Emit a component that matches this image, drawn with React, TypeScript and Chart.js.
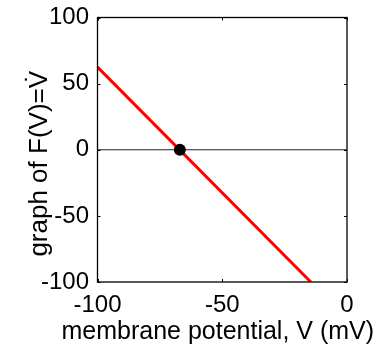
import React, { useEffect, useRef } from "react";
import { Chart, registerables } from "chart.js";

Chart.register(...registerables);

// Membrane potential (mV) and the corresponding rate F(V)
const lineV = [-100, -14.5];
const lineF = [62.5, -100];

// Fixed point where F(V) crosses zero
const restV = [-67];
const restF = [0];

// Horizontal reference at F = 0
const zeroV = [-100, 0];
const zeroF = [0, 0];

const xTicks = [-100, -50, 0];
const yTicks = [-100, -50, 0, 50, 100];

const xTitle = "membrane potential, V (mV)";
const yTitle = "graph of F(V)=V\u0307";

const FONT = "'Liberation Sans', Arial, Helvetica, sans-serif";

// Draws the closed axes box with short inward tick marks on all four sides
const boxPlugin = {
  id: "axesBox",
  afterDatasetsDraw(chart: any) {
    const { ctx, chartArea: a, scales } = chart;
    const tl = 3;
    ctx.save();
    ctx.strokeStyle = "#000";
    ctx.lineWidth = 1;
    ctx.beginPath();
    for (const v of xTicks) {
      const x = Math.round(scales.x.getPixelForValue(v)) + 0.5;
      ctx.moveTo(x, a.bottom);
      ctx.lineTo(x, a.bottom - tl);
      ctx.moveTo(x, a.top);
      ctx.lineTo(x, a.top + tl);
    }
    for (const v of yTicks) {
      const y = Math.round(scales.y.getPixelForValue(v)) + 0.5;
      ctx.moveTo(a.left, y);
      ctx.lineTo(a.left + tl, y);
      ctx.moveTo(a.right, y);
      ctx.lineTo(a.right - tl, y);
    }
    ctx.stroke();
    ctx.lineWidth = 1.3;
    ctx.strokeRect(a.left, a.top, a.right - a.left, a.bottom - a.top);
    ctx.restore();
  },
};

// Axis titles drawn at their natural width (no squeezing to the axis length)
const titlePlugin = {
  id: "axisTitles",
  afterDraw(chart: any) {
    const { ctx, chartArea: a } = chart;
    ctx.save();
    ctx.fillStyle = "#000";
    ctx.textAlign = "center";
    ctx.textBaseline = "alphabetic";
    ctx.font = `25px ${FONT}`;
    ctx.fillText(xTitle, (a.left + a.right) / 2 - 4.5, 339);
    ctx.font = `26px ${FONT}`;
    ctx.translate(47, (a.top + a.bottom) / 2 + 14);
    ctx.rotate(-Math.PI / 2);
    ctx.fillText(yTitle, 0, 0);
    ctx.restore();
  },
};

export default function App() {
  const ref = useRef<HTMLCanvasElement | null>(null);

  useEffect(() => {
    if (!ref.current) return;
    const chart = new Chart(ref.current, {
      type: "line",
      data: {
        datasets: [
          {
            data: restV.map((v, i) => ({ x: v, y: restF[i] })),
            showLine: false,
            pointRadius: 6,
            pointBackgroundColor: "#000",
            pointBorderColor: "#000",
            pointBorderWidth: 0,
            order: 0,
          },
          {
            data: lineV.map((v, i) => ({ x: v, y: lineF[i] })),
            borderColor: "#ff0000",
            borderWidth: 3,
            pointRadius: 0,
            order: 1,
          },
          {
            data: zeroV.map((v, i) => ({ x: v, y: zeroF[i] })),
            borderColor: "#222",
            borderWidth: 1,
            pointRadius: 0,
            order: 2,
          },
        ],
      },
      options: {
        responsive: false,
        animation: false,
        events: [],
        layout: { padding: { top: 17.5, right: 33, left: 0, bottom: 0 } },
        plugins: {
          legend: { display: false },
          tooltip: { enabled: false },
        },
        scales: {
          x: {
            type: "linear",
            min: -100,
            max: 0,
            afterBuildTicks: (s: any) => {
              s.ticks = xTicks.map((v) => ({ value: v }));
            },
            afterFit: (s: any) => {
              s.height = 67;
              s.paddingLeft = 0;
              s.paddingRight = 0;
            },
            grid: { display: false, drawTicks: false },
            border: { display: false },
            ticks: {
              color: "#000",
              padding: 9,
              maxRotation: 0,
              font: { family: FONT, size: 24 },
            },
          },
          y: {
            type: "linear",
            min: -100,
            max: 100,
            afterBuildTicks: (s: any) => {
              s.ticks = yTicks.map((v) => ({ value: v }));
            },
            afterFit: (s: any) => {
              s.width = 97.5;
              s.paddingTop = 0;
              s.paddingBottom = 0;
            },
            grid: { display: false, drawTicks: false },
            border: { display: false },
            ticks: {
              color: "#000",
              padding: 8.5,
              font: { family: FONT, size: 24 },
            },
          },
        },
      },
      plugins: [boxPlugin, titlePlugin],
    });
    return () => chart.destroy();
  }, []);

  return (
    <div style={{ position: "fixed", left: 0, top: 0, width: 380, height: 349, background: "#fff" }}>
      <canvas ref={ref} width={380} height={349} style={{ display: "block" }} />
    </div>
  );
}
